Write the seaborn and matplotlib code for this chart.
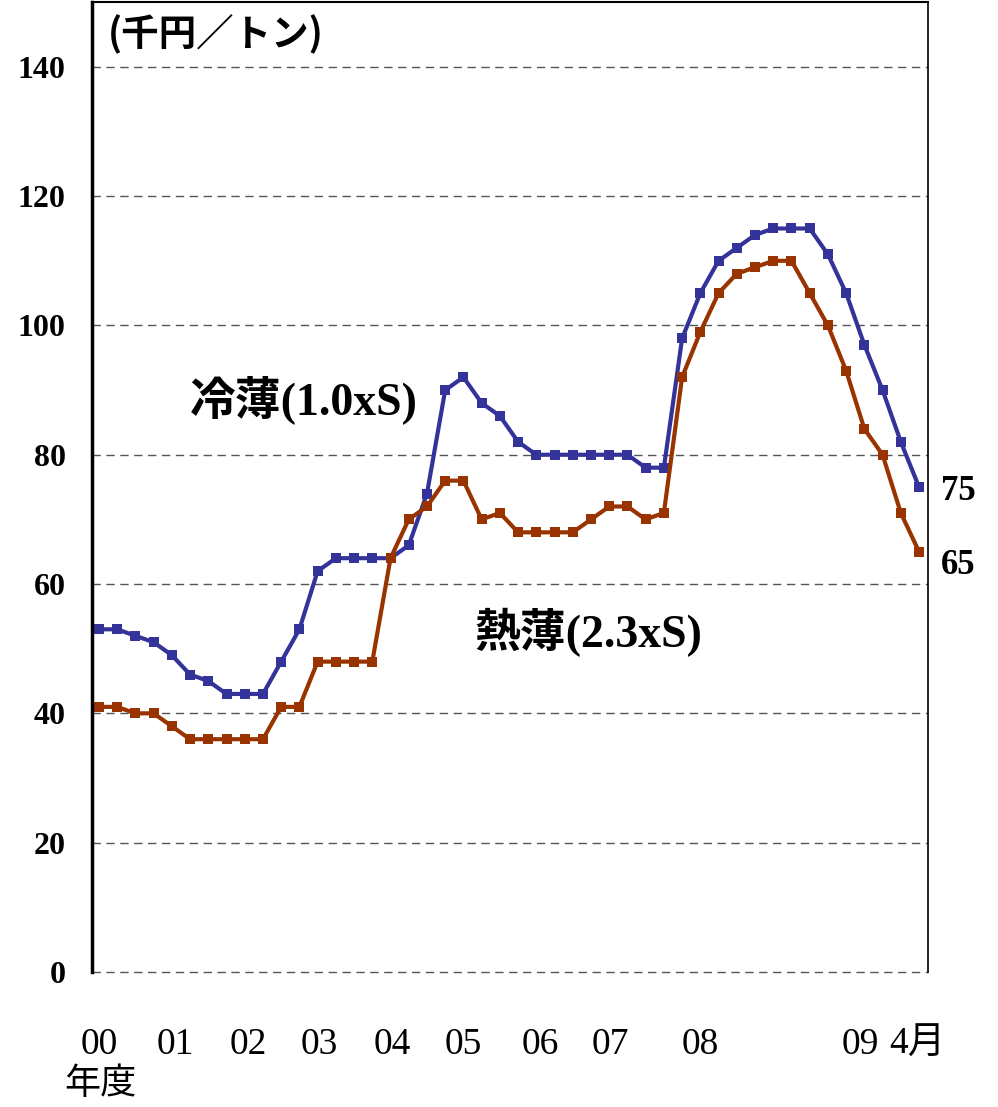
import pandas as pd
import matplotlib
matplotlib.use("Agg")
import matplotlib.pyplot as plt
import seaborn as sns

# steel sheet prices, quarterly then monthly (thousand yen / ton)
cold = [53, 53, 52, 51, 49, 46, 45, 43, 43, 43, 48, 53, 62, 64, 64, 64,
        64, 66, 74, 90, 92, 88, 86, 82, 80, 80, 80, 80, 80, 80, 78, 78,
        98, 105, 110, 112, 114, 115, 115, 115, 111, 105, 97, 90, 82, 75]
hot = [41, 41, 40, 40, 38, 36, 36, 36, 36, 36, 41, 41, 48, 48, 48, 48,
       64, 70, 72, 76, 76, 70, 71, 68, 68, 68, 68, 70, 72, 72, 70, 71,
       92, 99, 105, 108, 109, 110, 110, 105, 100, 93, 84, 80, 71, 65]
year_labels = ['00', '01', '02', '03', '04', '05', '06', '07', '08', '09', '4月']
year_pos = [0, 4.2, 8.2, 12.1, 16.1, 20.0, 24.2, 28.05, 33.0, 41.8, 44.9]
y_ticks = [0, 20, 40, 60, 80, 100, 120, 140]

df = pd.DataFrame({'idx': range(len(cold)), 'cold': cold, 'hot': hot})

sns.set_style("white")
serif = ['Liberation Serif', 'Noto Sans CJK JP']
cjk = ['Noto Sans CJK JP', 'DejaVu Sans']
plt.rcParams['font.family'] = serif
plt.rcParams['text.color'] = 'black'
plt.rcParams['xtick.color'] = 'black'
plt.rcParams['ytick.color'] = 'black'

fig = plt.figure(figsize=(9.98, 11.07), dpi=100)
ax = fig.add_axes([0.0922, 0.122, 0.8378, 0.876])

sns.lineplot(data=df, x='idx', y='cold', color='#333399', lw=3, marker='s',
             markersize=7, markeredgewidth=0, ax=ax)
sns.lineplot(data=df, x='idx', y='hot', color='#993300', lw=3, marker='s',
             markersize=7, markeredgewidth=0, ax=ax)

ax.set_xlim(-0.38, 45.5)
ax.set_ylim(0, 150)
ax.set_yticks(y_ticks)
ax.set_yticklabels([str(v) for v in y_ticks], fontweight='bold', fontsize=23)
ax.set_xticks(year_pos)
ax.set_xticklabels(year_labels, fontsize=27)
ax.tick_params(axis='x', length=0, pad=40)
ax.tick_params(axis='y', direction='in', length=10, width=2, pad=19)
ax.set_xlabel('')
ax.set_ylabel('')

for v in y_ticks:
    ax.axhline(v, color='#555555', lw=1, ls=(0, (6, 4)), zorder=0, clip_on=False)

ax.spines['bottom'].set_visible(False)
ax.spines['left'].set_linewidth(2.5)
ax.spines['top'].set_linewidth(1.5)
ax.spines['right'].set_linewidth(1.2)
for s in ax.spines.values():
    s.set_color('black')

ax.text(0.5, 145, '(千円／トン)', family=cjk, fontsize=27, fontweight='bold',
        va='center', ha='left')
ax.text(5.0, 88.5, '冷薄(1.0xS)', fontsize=33, fontweight='bold', va='center', ha='left')
ax.text(20.6, 52.5, '熱薄(2.3xS)', fontsize=33, fontweight='bold', va='center', ha='left')
ax.text(46.2, cold[-1] - 0.7, str(cold[-1]), fontsize=25, fontweight='bold', va='center', ha='left')
ax.text(46.2, hot[-1] - 2.2, str(hot[-1]), fontsize=25, fontweight='bold', va='center', ha='left')

fig.text(100 / 998, 1 - 1084 / 1107, '年度', family=cjk, fontsize=26,
         ha='center', va='center')

plt.savefig('out.png', dpi=100)
